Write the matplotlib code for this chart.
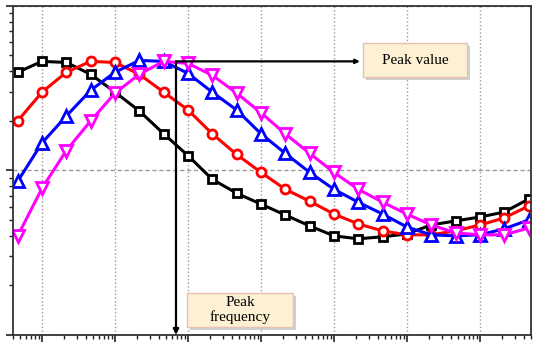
import numpy as np
import matplotlib
matplotlib.use('Agg')
from matplotlib import pyplot as plt
from matplotlib.patches import Rectangle
from matplotlib.ticker import LogLocator, NullFormatter

# frequency points, one every third of a decade
freq = [0.464, 1.0, 2.15, 4.64, 10.0, 21.5, 46.4, 100.0, 215.0, 464.0,
        1.0e3, 2.15e3, 4.64e3, 1.0e4, 2.15e4, 4.64e4, 1.0e5, 2.15e5,
        4.64e5, 1.0e6, 2.15e6, 4.64e6]

black_vals = [3.95, 4.60, 4.53, 3.84, 2.99, 2.30, 1.67, 1.23, 0.883, 0.727,
              0.624, 0.536, 0.460, 0.400, 0.384, 0.395, 0.411, 0.466, 0.493,
              0.521, 0.558, 0.669]
red_vals = [2.00, 2.99, 3.95, 4.60, 4.53, 3.84, 2.99, 2.33, 1.67, 1.25,
            0.973, 0.768, 0.650, 0.543, 0.473, 0.429, 0.406, 0.406, 0.429,
            0.466, 0.514, 0.607]
blue_vals = [0.859, 1.47, 2.14, 3.07, 3.95, 4.66, 4.60, 3.89, 2.99, 2.33,
             1.67, 1.27, 0.973, 0.768, 0.641, 0.543, 0.453, 0.406, 0.400,
             0.406, 0.441, 0.500]
magenta_vals = [0.400, 0.779, 1.32, 2.00, 2.95, 3.84, 4.60, 4.47, 3.79, 2.95,
                2.24, 1.67, 1.27, 0.973, 0.768, 0.641, 0.543, 0.466, 0.417,
                0.406, 0.406, 0.446]

peak_freq = 68.5
peak_value = 4.6
arrow_end = 2.27e4

series = [
    (black_vals, 'black', 's', 6),
    (red_vals, 'red', 'o', 6.5),
    (blue_vals, 'blue', '^', 8),
    (magenta_vals, 'magenta', 'v', 8),
]

fig = plt.figure(figsize=(5.35, 3.46), dpi=100)
ax = fig.add_axes([0.0243, 0.032, 0.968, 0.951])

for vals, col, mk, ms in series:
    ax.plot(freq, vals, color=col, lw=2.2, marker=mk, ms=ms,
            mfc='white', mec=col, mew=2.0)

ax.set_xscale('log')
ax.set_yscale('log')
ax.set_xlim(0.40, 5.0e6)
ax.set_ylim(0.1, 10)

ax.xaxis.set_major_locator(LogLocator(base=10, numticks=20))
ax.xaxis.set_minor_locator(LogLocator(base=10, subs=np.arange(2, 10), numticks=20))
ax.xaxis.set_major_formatter(NullFormatter())
ax.xaxis.set_minor_formatter(NullFormatter())
ax.yaxis.set_major_formatter(NullFormatter())
ax.yaxis.set_minor_formatter(NullFormatter())
ax.tick_params(which='major', direction='out', length=5, width=1.2, color='#222')
ax.tick_params(which='minor', direction='out', length=3, width=1.0, color='#222')

# grid: dotted verticals at decades, dashed horizontal at 1
ax.grid(True, which='major', axis='x', color='#999999', ls=':', lw=1.0)
ax.grid(True, which='major', axis='y', color='#999999', ls=(0, (3, 2)), lw=1.0)
ax.set_axisbelow(True)

for s in ax.spines.values():
    s.set_color('#333333')
    s.set_linewidth(1.3)

# peak markers
ax.annotate('', xy=(peak_freq, 0.1), xytext=(peak_freq, peak_value),
            arrowprops=dict(arrowstyle='-|>', color='black', lw=1.6,
                            mutation_scale=8, shrinkA=0, shrinkB=0),
            annotation_clip=False)
ax.annotate('', xy=(arrow_end, peak_value), xytext=(peak_freq, peak_value),
            arrowprops=dict(arrowstyle='-|>', color='black', lw=1.6,
                            mutation_scale=6, shrinkA=0, shrinkB=0))

def label_box(x0, y0, w, h, text):
    # pixel box (from top-left) converted to figure fraction
    W, H = 535.0, 346.0
    fx, fy = x0 / W, 1 - (y0 + h) / H
    fw, fh = w / W, h / H
    shadow = Rectangle((fx + 3 / W, fy - 3 / H), fw, fh, transform=fig.transFigure,
                       facecolor='#999999', edgecolor='none', alpha=0.45, zorder=5)
    box = Rectangle((fx, fy), fw, fh, transform=fig.transFigure,
                    facecolor='#fdf0d3', edgecolor='#e8c0b4', lw=1.0, zorder=6)
    fig.patches.extend([shadow, box])
    fig.text(fx + fw / 2, fy + fh / 2, text, ha='center', va='center',
             family='Liberation Serif', fontsize=11, linespacing=1.1, zorder=7)

label_box(363, 43, 104, 34, 'Peak value')
label_box(187, 293, 106, 34, 'Peak\nfrequency')

fig.savefig('out.png', dpi=100)
